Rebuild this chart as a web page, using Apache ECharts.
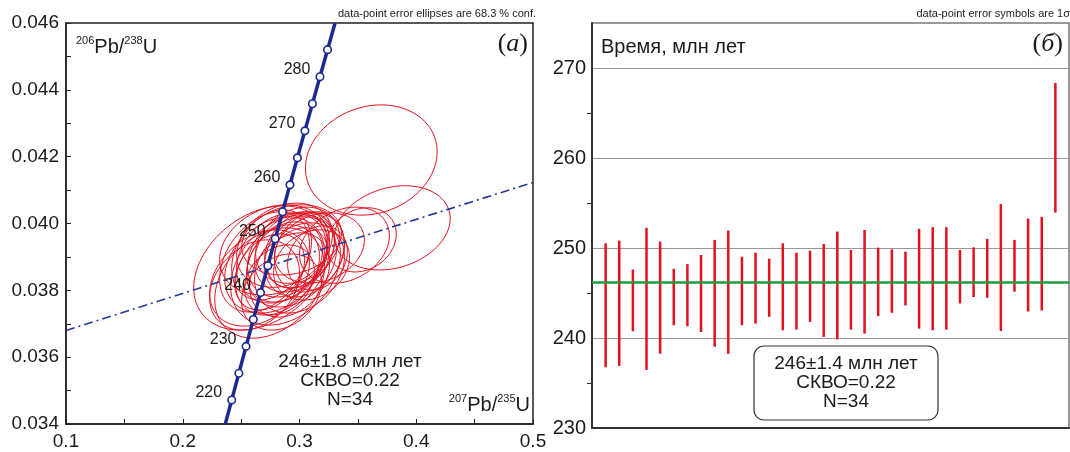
<!DOCTYPE html>
<html><head><meta charset="utf-8">
<script src="https://cdn.jsdelivr.net/npm/echarts@6/dist/echarts.min.js"></script>
<style>html,body{margin:0;padding:0;background:#fff;}#c{width:1070px;height:452px;}</style>
</head><body><div id="c"></div>
<script>
// ---- Panel (a): concordia ----
const xTicks = [0.1, 0.2, 0.3, 0.4, 0.5];
const yTicks = [0.034, 0.036, 0.038, 0.040, 0.042, 0.044, 0.046];
// concordia points (age in Ma, 207Pb/235U, 206Pb/238U)
const concAges = [215.5, 220, 225, 230, 235, 240, 245, 250, 255, 260, 265, 270, 275, 280, 285, 289.9];
const concX = [0.23645, 0.24193, 0.24806, 0.25422, 0.26041, 0.26664, 0.27289, 0.27917, 0.28549, 0.29183, 0.29821, 0.30462, 0.31106, 0.31753, 0.32403, 0.33046];
const concY = [0.03400, 0.034717, 0.035519, 0.036323, 0.037127, 0.037932, 0.038737, 0.039543, 0.040350, 0.041157, 0.041965, 0.042773, 0.043582, 0.044392, 0.045202, 0.04600];
const concLabelAges = [220, 230, 240, 250, 260, 270, 280];
// discordia (dash-dot) end points
const discX = [0.1, 0.5];
const discY = [0.03680, 0.04123];
// error ellipses: centre, half-extent in x and y, correlation
const ellX = [0.3615,0.3795,0.3530,0.3385,0.2675,0.2744,0.2786,0.2846,0.2897,0.2957,0.3000,0.2872,0.2812,0.2932,0.3043,0.3085,0.2983,0.2872,0.2761,0.2701,0.2829,0.2915,0.3000,0.3103,0.3154,0.2786,0.2932,0.2658,0.2615,0.2880,0.2983,0.2744,0.3171,0.2846];
const ellY = [0.04190,0.03987,0.03951,0.03935,0.03867,0.03822,0.03876,0.03897,0.03906,0.03915,0.03921,0.03885,0.03861,0.03885,0.03906,0.03915,0.03935,0.03935,0.03906,0.03885,0.03831,0.03846,0.03867,0.03876,0.03897,0.03921,0.03951,0.03837,0.03816,0.03861,0.03897,0.03855,0.03927,0.03795];
const ellA = [0.0564,0.0496,0.0299,0.0385,0.0581,0.0470,0.0427,0.0385,0.0342,0.0342,0.0299,0.0325,0.0359,0.0385,0.0342,0.0299,0.0359,0.0410,0.0342,0.0385,0.0299,0.0342,0.0385,0.0325,0.0256,0.0470,0.0427,0.0427,0.0385,0.0470,0.0256,0.0299,0.0385,0.0342];
const ellB = [0.00165,0.00126,0.00096,0.00114,0.00186,0.00165,0.00144,0.00135,0.00126,0.00120,0.00114,0.00120,0.00135,0.00135,0.00126,0.00120,0.00114,0.00126,0.00135,0.00150,0.00105,0.00126,0.00135,0.00105,0.00096,0.00135,0.00105,0.00144,0.00135,0.00165,0.00090,0.00114,0.00105,0.00114];
const ellR = [0.15,0.22,0.18,0.25,0.32,0.30,0.28,0.25,0.28,0.25,0.25,0.30,0.30,0.28,0.25,0.20,0.22,0.25,0.30,0.34,0.25,0.28,0.25,0.22,0.20,0.22,0.20,0.32,0.28,0.30,0.25,0.30,0.22,0.25];

// ---- Panel (б): weighted mean ----
const ageTicks = [230, 240, 250, 260, 270];
const barLo = [236.75,236.90,240.75,236.46,238.25,241.42,241.31,240.67,239.03,238.25,241.42,241.60,242.35,240.86,240.93,241.79,240.12,239.85,240.93,240.49,242.43,242.80,243.62,241.04,240.86,240.93,243.84,244.55,244.47,240.78,245.15,242.95,243.06,253.94];
const barHi = [250.52,250.82,247.61,252.24,250.71,247.69,248.21,249.22,250.90,251.94,249.03,249.48,248.81,250.52,249.48,249.70,250.45,251.83,249.78,252.01,250.04,249.85,249.59,252.13,252.31,252.31,249.78,250.07,251.01,254.88,250.90,253.27,253.45,268.34];
const meanAge = 246.15;

const RED = '#e3101f', NAVY = '#1b2a8f', TXT = '#1a1a1a';
const FONT = '"Liberation Sans", Arial, sans-serif';

const ellData = ellX.map((x, i) => [x, ellY[i], ellA[i], ellB[i], ellR[i]]);
const barData = barLo.map((lo, i) => [i + 1, lo, barHi[i]]);
const concData = concX.map((x, i) => [x, concY[i]]);
const markData = [];
concAges.forEach((a, i) => { if (a >= 220 && a <= 285) markData.push({ value: [concX[i], concY[i]], age: a }); });

const chart = echarts.init(document.getElementById('c'), null, { renderer: 'canvas' });
chart.setOption({
  animation: false,
  backgroundColor: '#fff',
  grid: [
    { left: 66, right: 537, top: 23, bottom: 28, show: true, borderColor: '#222', borderWidth: 1.5 },
    { left: 592, right: 1, top: 23, bottom: 24, show: true, borderColor: '#777', borderWidth: 1.5 }
  ],
  xAxis: [
    { gridIndex: 0, type: 'value', min: xTicks[0], max: xTicks[xTicks.length - 1], interval: 0.1,
      axisLine: { show: true, lineStyle: { color: '#222', width: 1.5 } },
      axisTick: { show: true, inside: true, length: 5, lineStyle: { color: '#222' } },
      minorTick: { show: true, splitNumber: 2, length: 5, lineStyle: { color: '#222' } },
      splitLine: { show: false },
      axisLabel: { fontSize: 19, color: TXT, fontFamily: FONT, margin: 8, formatter: v => v.toFixed(1) } },
    { gridIndex: 1, type: 'value', min: 0, max: 35,
      axisLine: { show: true, lineStyle: { color: '#333', width: 2 } },
      axisTick: { show: false }, axisLabel: { show: false }, splitLine: { show: false } }
  ],
  yAxis: [
    { gridIndex: 0, type: 'value', min: yTicks[0], max: yTicks[yTicks.length - 1], interval: 0.002,
      axisLine: { show: true, lineStyle: { color: '#222', width: 1.5 } },
      axisTick: { show: true, inside: true, length: 5, lineStyle: { color: '#222' } },
      minorTick: { show: true, splitNumber: 2, length: 5, lineStyle: { color: '#222' } },
      splitLine: { show: false },
      axisLabel: { fontSize: 19, color: TXT, fontFamily: FONT, margin: 7, formatter: v => v.toFixed(3) } },
    { gridIndex: 1, type: 'value', min: ageTicks[0], max: 275, interval: 10,
      axisLine: { show: true, lineStyle: { color: '#333', width: 2 } },
      axisTick: { show: false },
      minorTick: { show: true, splitNumber: 2, length: 5, lineStyle: { color: '#333' } },
      splitLine: { show: true, lineStyle: { color: '#999', width: 1 } },
      axisLabel: { fontSize: 20, color: TXT, fontFamily: FONT, margin: 6, showMaxLabel: false,
        formatter: v => (ageTicks.indexOf(Math.round(v)) >= 0 ? String(Math.round(v)) : '') } }
  ],
  series: [
    { type: 'custom', xAxisIndex: 0, yAxisIndex: 0, data: ellData, z: 2, silent: true,
      encode: { x: 0, y: 1 },
      renderItem: function (params, api) {
        const cx = api.value(0), cy = api.value(1), a = api.value(2), b = api.value(3), r = api.value(4);
        const q = Math.sqrt(1 - r * r);
        const pts = [];
        for (let k = 0; k < 90; k++) {
          const t = k / 90 * Math.PI * 2;
          pts.push(api.coord([cx + a * Math.cos(t), cy + b * (r * Math.cos(t) + q * Math.sin(t))]));
        }
        return { type: 'polygon', shape: { points: pts }, style: { fill: 'none', stroke: RED, lineWidth: 1 } };
      } },
    { type: 'line', xAxisIndex: 0, yAxisIndex: 0, data: discX.map((x, i) => [x, discY[i]]), symbol: 'none', z: 3,
      lineStyle: { color: '#22399a', width: 1.6, type: [9, 4, 2, 4] } },
    { type: 'line', xAxisIndex: 0, yAxisIndex: 0, data: concData, symbol: 'none', z: 4,
      lineStyle: { color: NAVY, width: 3.5 } },
    { type: 'scatter', xAxisIndex: 0, yAxisIndex: 0, data: markData, symbol: 'circle', symbolSize: 7.5, z: 5,
      itemStyle: { color: '#ffffff', borderColor: NAVY, borderWidth: 1.6, opacity: 1 },
      label: { show: true, position: 'left', distance: 5, offset: [0, -7], fontSize: 16, color: TXT, fontFamily: FONT, opacity: 1,
        formatter: p => (concLabelAges.indexOf(p.data.age) >= 0 ? String(p.data.age) : '') } },
    { type: 'custom', xAxisIndex: 1, yAxisIndex: 1, data: barData, z: 2, silent: true,
      encode: { x: 0, y: [1, 2] },
      renderItem: function (params, api) {
        const p1 = api.coord([api.value(0), api.value(1)]);
        const p2 = api.coord([api.value(0), api.value(2)]);
        return { type: 'line', shape: { x1: p1[0], y1: p1[1], x2: p2[0], y2: p2[1] }, style: { stroke: RED, lineWidth: 2.5 } };
      },
      markLine: { silent: true, symbol: 'none', label: { show: false }, z: 4,
        lineStyle: { color: '#1f9a3c', width: 2.5, type: 'solid' }, data: [{ yAxis: meanAge }] } }
  ],
  graphic: [
    { type: 'text', x: 536, y: 14, style: { text: 'data-point error ellipses are 68.3 % conf.', font: '11px ' + FONT, fill: TXT, align: 'right', verticalAlign: 'middle' } },
    { type: 'text', x: 1070, y: 14, style: { text: 'data-point error symbols are 1σ', font: '11px ' + FONT, fill: TXT, align: 'right', verticalAlign: 'middle' } },
    { type: 'text', x: 76, y: 47, z: 10, style: { text: '{s|206}{m|Pb/}{s|238}{m|U}', align: 'left', verticalAlign: 'middle', fill: TXT,
        rich: { m: { fontSize: 20, fontFamily: FONT, fill: TXT, lineHeight: 24 }, s: { fontSize: 11, fontFamily: FONT, fill: TXT, lineHeight: 24, verticalAlign: 'top', padding: [0, 0, 8, 0] } } } },
    { type: 'text', x: 530, y: 405, z: 10, style: { text: '{s|207}{m|Pb/}{s|235}{m|U}', align: 'right', verticalAlign: 'middle', fill: TXT,
        rich: { m: { fontSize: 20, fontFamily: FONT, fill: TXT, lineHeight: 24 }, s: { fontSize: 11, fontFamily: FONT, fill: TXT, lineHeight: 24, verticalAlign: 'top', padding: [0, 0, 8, 0] } } } },
    { type: 'text', x: 528, y: 44, z: 10, style: { text: '{p|(}{i|a}{p|)}', align: 'right', verticalAlign: 'middle',
        rich: { p: { fontSize: 26, fontFamily: '"Liberation Serif", serif', fill: TXT }, i: { fontSize: 26, fontStyle: 'italic', fontFamily: '"Liberation Serif", serif', fill: TXT } } } },
    { type: 'text', x: 1063, y: 44, z: 10, style: { text: '{p|(}{i|б}{p|)}', align: 'right', verticalAlign: 'middle',
        rich: { p: { fontSize: 26, fontFamily: '"Liberation Serif", serif', fill: TXT }, i: { fontSize: 26, fontStyle: 'italic', fontFamily: '"Liberation Serif", serif', fill: TXT } } } },
    { type: 'text', x: 601, y: 47, z: 10, style: { text: 'Время, млн лет', font: '20px ' + FONT, fill: TXT, align: 'left', verticalAlign: 'middle' } },
    { type: 'text', x: 350, y: 381, z: 10, style: { text: '246±1.8 млн лет\nСКВО=0.22\nN=34', font: '19px ' + FONT, lineHeight: 19, fill: TXT, align: 'center', verticalAlign: 'middle' } },
    { type: 'rect', z: 9, shape: { x: 754, y: 346, width: 184, height: 74, r: 10 }, style: { fill: '#fff', stroke: '#333', lineWidth: 1.2 } },
    { type: 'text', x: 846, y: 383, z: 10, style: { text: '246±1.4 млн лет\nСКВО=0.22\nN=34', font: '19px ' + FONT, lineHeight: 19, fill: TXT, align: 'center', verticalAlign: 'middle' } }
  ]
});
</script></body></html>
